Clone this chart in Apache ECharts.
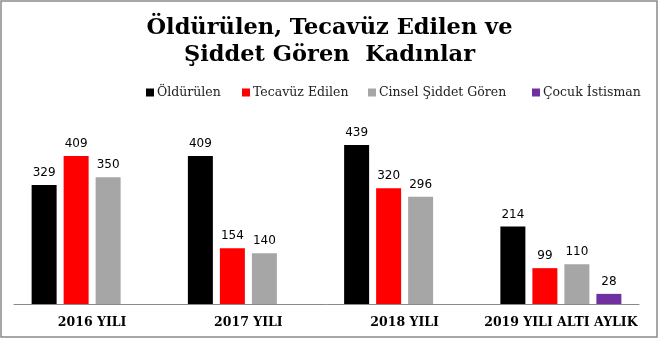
<!DOCTYPE html>
<html><head><meta charset="utf-8">
<script src="https://cdn.jsdelivr.net/npm/echarts@6/dist/echarts.min.js"></script>
<style>html,body{margin:0;padding:0;background:#fff}#c{width:659px;height:339px}</style>
</head><body><div id="c"></div>
<script>
var categories = ['2016 YILI', '2017 YILI', '2018 YILI', '2019 YILI ALTI AYLIK'];
var seriesNames = ['Öldürülen', 'Tecavüz Edilen', 'Cinsel Şiddet Gören', 'Çocuk İstisman'];
var oldurulen = [329, 409, 439, 214];
var tecavuz = [409, 154, 320, 99];
var cinsel = [350, 140, 296, 110];
var cocuk = [null, null, null, 28];
var colors = ['#000000', '#FF0000', '#A6A6A6', '#7030A0'];
var legendLeft = [146, 242, 368, 532];

var values = [oldurulen, tecavuz, cinsel, cocuk];
var chart = echarts.init(document.getElementById('c'), null, {renderer: 'canvas'});
var series = values.map(function (v, i) {
  return {
    name: seriesNames[i], type: 'bar', data: v, barWidth: 25, barGap: '28%',
    itemStyle: {color: colors[i]},
    label: {show: true, position: 'top', distance: 6, color: '#000',
      fontFamily: 'DejaVu Sans', fontSize: 12}
  };
});
var legends = seriesNames.map(function (n, i) {
  return {data: [n], left: legendLeft[i], top: 86, padding: 0, itemWidth: 8, itemHeight: 8, itemGap: 4,
    icon: 'rect', textStyle: {fontFamily: 'DejaVu Serif', fontSize: 12.5, color: '#222', padding: [0,0,0,-2]}};
});
chart.setOption({
  animation: false,
  title: {text: 'Öldürülen, Tecavüz Edilen ve\nŞiddet Gören  Kadınlar', left: 'center', top: 10,
    textStyle: {fontFamily: 'DejaVu Serif', fontWeight: 'bold', fontSize: 22.5, lineHeight: 27, color: '#000'}},
  legend: legends,
  graphic: [{type: 'rect', shape: {x: 1, y: 1, width: 656, height: 336},
    style: {fill: null, stroke: '#898989', lineWidth: 1.5}, silent: true}],
  grid: {left: 14, right: 20, top: 123, bottom: 35},
  xAxis: {type: 'category', data: categories,
    axisLine: {lineStyle: {color: '#898989', width: 1}}, axisTick: {show: false},
    axisLabel: {interval: 0, margin: 12, fontFamily: 'DejaVu Serif', fontWeight: 'bold', fontSize: 12.5, color: '#000'}},
  yAxis: {type: 'value', min: 0, max: 500, show: false, splitLine: {show: false}},
  series: series
});
</script></body></html>
